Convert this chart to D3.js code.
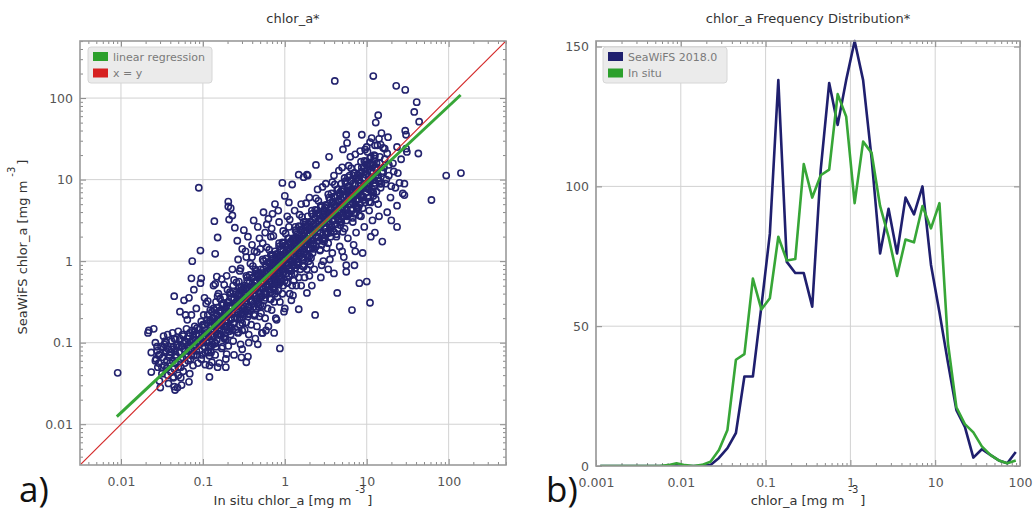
<!DOCTYPE html>
<html>
<head>
<meta charset="utf-8">
<script src="https://cdnjs.cloudflare.com/ajax/libs/d3/7.8.5/d3.min.js"></script>
<style>
	body { margin: 0; background: #fff; }
	svg#plot { display: block; font-family: "DejaVu Sans", sans-serif; }
	.tick text { fill: #555; font-size: 12.5px; font-family: "DejaVu Sans", sans-serif; }
	.tick line { stroke: #8a8a8a; stroke-width: 1; }
	.domain { display: none; }
</style>
</head>
<body>
<svg id="plot" width="1034" height="514"></svg>
<script>

// ---- panel a) matchups, log10 of [in situ, SeaWiFS] chlor_a
var matchupsLow = [
	[-2.04,-1.37],[-1.66,-0.85],[-1.60,-0.83],[-1.63,-1.12],
	[-1.56,-1.05],[-1.52,-1.55],[-1.53,-1.47],[-1.57,-1.20],
	[-1.47,-1.02],[-1.44,-1.31],[-1.42,-1.50],[-1.46,-0.98],[-1.41,-1.18],
	[-1.38,-1.08],[-1.36,-1.42],[-1.34,-1.25],[-1.32,-1.03],[-1.39,-1.36],[-1.31,-1.55],[-1.35,-0.95],[-1.33,-1.15],
	[-1.29,-1.05],[-1.27,-1.20],[-1.24,-1.35],[-1.22,-0.98],[-1.26,-1.52],[-1.21,-1.10],[-1.28,-0.62],[-1.23,-0.48],
	[-1.19,-1.04],[-1.18,-1.22],[-1.17,-0.92],[-1.16,-1.38],[-1.15,-1.00],[-1.14,-1.15],[-1.13,-0.85],[-1.12,-1.28],
	[-1.11,-1.06],[-1.19,-0.72],[-1.14,-0.66],[-1.17,-1.48],[-1.12,-0.97],
	[-1.09,-0.96],[-1.08,-1.10],[-1.07,-0.82],[-1.06,-1.25],[-1.05,-0.90],[-1.04,-1.02],[-1.03,-0.27],[-1.02,-0.74],
	[-1.01,-1.15],[-1.05,0.90],[-1.08,-0.58],
	[-0.99,-0.95],[-0.98,-0.78],[-0.97,-1.12],[-0.96,-0.88],[-0.95,-1.00],[-0.94,-0.66],[-0.93,-0.93],[-0.92,-1.28],
	[-0.91,-0.80],[-0.96,-0.52],[-0.93,-1.05],[-0.91,-0.60],
	[-1.48,-0.92],[-1.43,-0.90],[-1.37,-0.88],[-1.30,-0.86],[-1.25,-0.90],[-1.20,-0.83],[-1.10,-0.80],
	[-1.45,-1.10],[-1.40,-1.25],[-1.30,-1.30],[-1.50,-1.30]
];

var matchupsMid = [
	[-0.89,-0.85],[-0.88,-0.70],[-0.88,-1.02],[-0.87,-0.92],[-0.86,-0.60],[-0.86,-0.78],[-0.85,-1.15],[-0.84,-0.88],
	[-0.84,-0.50],[-0.83,-0.97],[-0.82,-0.72],[-0.82,-1.30],[-0.81,-0.82],[-0.81,-0.40],[-0.89,-0.62],[-0.85,-0.28],
	[-0.79,-0.76],[-0.78,-0.90],[-0.78,-0.60],[-0.77,-0.84],[-0.76,-0.52],[-0.76,-1.05],[-0.75,-0.70],[-0.74,-0.95],
	[-0.74,-0.44],[-0.73,-0.80],[-0.72,-0.64],[-0.72,-1.20],[-0.71,-0.74],[-0.69,0.73],[-0.70,-0.35],
	[-0.69,-0.66],[-0.68,-0.50],[-0.68,-0.82],[-0.67,-0.58],[-0.66,-0.90],[-0.66,-0.40],[-0.65,-0.70],[-0.64,-0.62],
	[-0.63,-0.98],[-0.63,-0.30],[-0.62,-0.76],[-0.61,-0.52],[-0.61,0.41],[-0.66,0.65],[-0.68,0.51],
	[-0.59,-0.56],[-0.59,-0.38],[-0.58,-0.70],[-0.58,-0.48],[-0.57,-0.88],[-0.57,-0.60],[-0.56,-0.25],[-0.56,-0.52],
	[-0.55,-0.78],[-0.55,-0.42],[-0.54,-0.65],[-0.54,-1.02],[-0.53,-0.50],[-0.53,-0.32],[-0.52,-0.58],[-0.52,-0.85],
	[-0.51,-0.45],[-0.51,-0.68],[-0.55,-0.12],[-0.53,-1.18],
	[-0.49,-0.46],[-0.49,-0.30],[-0.48,-0.62],[-0.48,-0.40],[-0.47,-0.75],[-0.47,-0.52],[-0.46,-0.20],[-0.46,-0.44],
	[-0.45,-0.68],[-0.45,-0.35],[-0.44,-0.56],[-0.44,-0.90],[-0.43,-0.42],[-0.43,-0.25],[-0.42,-0.60],[-0.42,-0.48],
	[-0.41,-0.32],[-0.41,-0.78],[-0.47,0.05],
	[-0.39,-0.36],[-0.39,-0.20],[-0.38,-0.52],[-0.38,-0.30],[-0.37,-0.65],[-0.37,-0.42],[-0.36,-0.10],[-0.36,-0.34],
	[-0.35,-0.58],[-0.35,-0.24],[-0.34,-0.46],[-0.34,-0.80],[-0.33,-0.32],[-0.33,-0.15],[-0.32,-0.50],[-0.32,-0.38],
	[-0.31,-0.22],[-0.31,-0.68],[-0.37,0.12],[-0.33,-1.02],
	[-0.29,-0.27],[-0.29,-0.10],[-0.28,-0.43],[-0.28,-0.20],[-0.27,-0.55],[-0.27,-0.33],[-0.26,0.00],[-0.26,-0.25],
	[-0.25,-0.48],[-0.25,-0.14],[-0.24,-0.37],[-0.24,-0.70],[-0.23,-0.22],[-0.23,-0.06],[-0.22,-0.40],[-0.22,-0.29],
	[-0.21,-0.12],[-0.21,-0.58],[-0.27,0.22],[-0.23,-0.85],
	[-0.19,-0.18],[-0.19,-0.02],[-0.19,-0.35],[-0.18,-0.10],[-0.18,-0.46],[-0.18,-0.25],[-0.17,0.08],[-0.17,-0.15],
	[-0.17,-0.38],[-0.16,-0.05],[-0.16,-0.28],[-0.16,-0.60],[-0.15,-0.12],[-0.15,0.03],[-0.14,-0.32],[-0.14,-0.20],
	[-0.14,-0.02],[-0.13,-0.50],[-0.13,-0.15],[-0.12,0.12],[-0.12,-0.24],[-0.12,-0.40],[-0.11,-0.08],[-0.11,-0.70],
	[-0.17,0.30],[-0.13,-0.88],
	[-0.09,-0.08],[-0.09,0.08],[-0.09,-0.25],[-0.08,0.00],[-0.08,-0.36],[-0.08,-0.15],[-0.07,0.18],[-0.07,-0.05],
	[-0.07,-0.28],[-0.06,0.05],[-0.06,-0.18],[-0.06,-0.50],[-0.05,-0.02],[-0.05,0.13],[-0.04,-0.22],[-0.04,-0.10],
	[-0.04,0.08],[-0.03,-0.40],[-0.03,-0.05],[-0.02,0.22],[-0.02,-0.14],[-0.02,-0.30],[-0.01,0.02],[-0.01,-0.62],
	[0.01,0.02],[0.01,0.18],[0.02,-0.15],[0.02,0.10],[0.03,-0.26],[0.03,-0.05],[0.04,0.28],[0.04,0.05],
	[0.05,-0.18],[0.05,0.15],[0.06,-0.08],[0.06,-0.40],[0.07,0.08],[0.07,0.23],[0.08,-0.12],[0.08,0.00],
	[0.09,0.18],[0.09,-0.30],[0.05,0.42],
	[0.11,0.12],[0.11,0.28],[0.11,-0.05],[0.12,0.20],[0.12,-0.16],[0.12,0.05],[0.13,0.38],[0.13,0.15],
	[0.13,-0.08],[0.14,0.25],[0.14,0.02],[0.14,-0.30],[0.15,0.18],[0.15,0.33],[0.16,-0.02],[0.16,0.10],
	[0.16,0.28],[0.17,-0.20],[0.17,0.15],[0.18,0.42],[0.18,0.06],[0.19,-0.10],[0.19,0.22],
	[0.21,0.22],[0.21,0.38],[0.21,0.05],[0.22,0.30],[0.22,-0.06],[0.22,0.15],[0.23,0.48],[0.23,0.25],
	[0.23,0.02],[0.24,0.35],[0.24,0.12],[0.24,-0.20],[0.25,0.28],[0.25,0.43],[0.26,0.08],[0.26,0.20],
	[0.27,0.38],[0.27,-0.10],[0.28,0.25],[0.28,0.55],[0.29,0.16],[0.29,0.00],
	[0.31,0.32],[0.31,0.48],[0.31,0.15],[0.32,0.40],[0.32,0.04],[0.33,0.25],[0.33,0.58],[0.34,0.35],
	[0.34,0.10],[0.35,0.45],[0.35,0.22],[0.36,-0.10],[0.37,0.38],[0.37,0.52],[0.38,0.18],[0.38,0.30],
	[0.39,0.62],[0.37,-0.66]
];

var matchupsHigh = [
	[0.41,0.42],[0.41,0.58],[0.42,0.25],[0.42,0.50],[0.43,0.14],[0.43,0.35],[0.44,0.68],[0.45,0.45],
	[0.45,0.20],[0.46,0.55],[0.46,0.32],[0.47,0.00],[0.48,0.48],[0.48,0.62],[0.49,0.28],[0.49,0.40],
	[0.51,0.52],[0.51,0.68],[0.52,0.35],[0.52,0.60],[0.53,0.22],[0.54,0.45],[0.54,0.78],[0.55,0.55],
	[0.56,0.30],[0.56,0.65],[0.57,0.42],[0.58,0.10],[0.58,0.58],[0.59,0.72],
	[0.61,0.60],[0.61,0.78],[0.62,0.45],[0.62,0.68],[0.63,0.30],[0.63,0.55],[0.64,0.88],[0.65,0.62],
	[0.65,0.40],[0.66,0.75],[0.66,0.52],[0.67,0.18],[0.68,0.66],[0.68,0.82],[0.69,0.48],[0.69,0.95],
	[0.71,0.70],[0.71,0.88],[0.72,0.55],[0.72,0.78],[0.73,0.40],[0.73,0.65],[0.74,0.98],[0.75,0.72],
	[0.75,0.50],[0.76,0.85],[0.76,0.62],[0.77,0.28],[0.78,0.76],[0.78,0.92],[0.79,0.58],[0.79,1.05],
	[0.81,0.80],[0.81,0.98],[0.82,0.62],[0.82,0.88],[0.83,0.48],[0.83,0.72],[0.84,1.08],[0.85,0.82],
	[0.85,0.58],[0.86,0.95],[0.86,0.70],[0.87,0.35],[0.87,0.86],[0.88,1.02],[0.88,0.66],[0.89,1.15],
	[0.89,0.76],[0.84,0.20],
	[0.91,0.88],[0.91,1.05],[0.92,0.70],[0.92,0.96],[0.93,0.55],[0.93,0.80],[0.94,1.15],[0.95,0.90],
	[0.95,0.65],[0.96,1.02],[0.96,0.78],[0.97,0.42],[0.97,0.94],[0.98,1.10],[0.98,0.72],[0.99,1.22],[0.99,0.84],
	[1.01,0.96],[1.01,1.12],[1.02,0.78],[1.02,1.04],[1.03,0.62],[1.03,0.88],[1.04,1.20],[1.04,-0.51],
	[1.05,0.98],[1.05,0.72],[1.06,1.10],[1.06,0.85],[1.07,0.50],[1.07,1.02],[1.08,1.18],[1.08,0.80],
	[1.09,1.30],[1.09,0.92],
	[1.11,1.05],[1.12,1.20],[1.12,0.85],[1.13,1.12],[1.14,0.70],[1.15,0.98],[1.16,1.28],[1.17,0.90],[1.19,1.08],
	[1.21,1.15],[1.23,0.95],[1.25,1.32],[1.27,1.05],[1.29,0.78],
	[1.32,1.20],[1.35,0.90],[1.37,1.40],[1.38,1.08],
	[1.42,1.25],[1.46,0.95],[1.48,1.38]
];

// the solid core of the cloud, close to the 1:1 line
var matchupsCore = [
	[-1.58,-1.22],[-1.56,-1.10],[-1.55,-1.30],[-1.53,-1.15],[-1.51,-1.05],[-1.50,-1.38],
	[-1.49,-1.18],[-1.48,-1.06],[-1.47,-1.28],[-1.46,-1.12],[-1.45,-1.00],[-1.44,-1.22],[-1.43,-1.40],[-1.42,-1.08],[-1.41,-1.15],
	[-1.39,-1.12],[-1.38,-0.98],[-1.37,-1.22],[-1.36,-1.05],[-1.35,-1.32],[-1.34,-1.10],[-1.33,-0.96],[-1.32,-1.18],[-1.31,-1.02],[-1.30,-1.40],
	[-1.29,-1.12],[-1.28,-0.95],[-1.27,-1.30],[-1.26,-1.04],[-1.25,-1.18],[-1.24,-0.92],[-1.23,-1.08],[-1.22,-1.25],[-1.21,-1.00],[-1.20,-1.14],
	[-1.19,-0.95],[-1.18,-1.10],[-1.17,-1.02],[-1.16,-0.88],[-1.15,-1.20],[-1.14,-0.98],[-1.13,-1.10],[-1.12,-0.90],[-1.11,-1.16],[-1.10,-1.02],[-1.10,-0.86],
	[-1.09,-1.05],[-1.08,-0.90],[-1.07,-1.15],[-1.06,-0.98],[-1.05,-0.84],[-1.04,-1.10],[-1.03,-0.95],[-1.02,-1.20],[-1.01,-0.88],[-1.00,-1.00],[-1.00,-0.78],
	[-0.99,-0.92],[-0.98,-1.05],[-0.97,-0.85],[-0.96,-0.98],[-0.95,-0.76],[-0.94,-1.10],[-0.93,-0.88],[-0.92,-0.98],[-0.91,-0.72],[-0.90,-0.90],[-0.90,-1.12],
	[-0.89,-0.80],[-0.88,-0.92],[-0.87,-0.84],[-0.86,-0.70],[-0.85,-1.00],[-0.84,-0.78],[-0.83,-0.66],[-0.82,-0.90],[-0.81,-0.74],[-0.80,-0.85],[-0.80,-0.62],
	[-0.79,-0.91],[-0.78,-0.64],[-0.77,-0.79],[-0.76,-0.54],[-0.75,-0.70],[-0.74,-0.94],[-0.73,-0.63],[-0.72,-0.72],[-0.71,-0.80],[-0.70,-0.51],[-0.70,-0.66],
	[-0.69,-0.63],[-0.68,-0.86],[-0.67,-0.55],[-0.66,-0.72],[-0.65,-0.45],[-0.64,-0.62],[-0.63,-0.76],[-0.62,-0.47],[-0.61,-0.64],[-0.60,-0.51],[-0.60,-0.84],
	[-0.59,-0.50],[-0.58,-0.62],[-0.57,-0.54],[-0.56,-0.40],[-0.55,-0.70],[-0.54,-0.48],[-0.53,-0.36],[-0.52,-0.60],[-0.51,-0.44],[-0.50,-0.55],[-0.50,-0.32],
	[-0.49,-0.61],[-0.48,-0.34],[-0.47,-0.49],[-0.46,-0.24],[-0.45,-0.40],[-0.44,-0.64],[-0.43,-0.33],[-0.42,-0.42],[-0.41,-0.50],[-0.40,-0.21],[-0.40,-0.36],
	[-0.39,-0.33],[-0.38,-0.56],[-0.37,-0.25],[-0.36,-0.42],[-0.35,-0.15],[-0.34,-0.32],[-0.33,-0.46],[-0.32,-0.17],[-0.31,-0.34],[-0.30,-0.21],[-0.30,-0.54],
	[-0.29,-0.20],[-0.28,-0.32],[-0.27,-0.24],[-0.26,-0.10],[-0.25,-0.40],[-0.24,-0.18],[-0.23,-0.06],[-0.22,-0.30],[-0.21,-0.14],[-0.20,-0.25],[-0.20,-0.02],
	[-0.19,-0.31],[-0.18,-0.04],[-0.17,-0.19],[-0.16,0.06],[-0.15,-0.10],[-0.14,-0.34],[-0.13,-0.03],[-0.12,-0.12],[-0.11,-0.20],[-0.10,0.09],[-0.10,-0.06],
	[-0.09,-0.03],[-0.08,-0.26],[-0.07,0.05],[-0.06,-0.12],[-0.05,0.15],[-0.04,-0.02],[-0.03,-0.16],[-0.02,0.13],[-0.01,-0.04],[0.00,0.09],[0.00,-0.24],
	[0.01,0.10],[0.02,-0.02],[0.03,0.06],[0.04,0.20],[0.05,-0.10],[0.06,0.12],[0.07,0.24],[0.08,0.00],[0.09,0.16],[0.10,0.05],[0.10,0.28],
	[0.11,-0.01],[0.12,0.26],[0.13,0.11],[0.14,0.36],[0.15,0.20],[0.16,-0.04],[0.17,0.27],[0.18,0.18],[0.19,0.10],[0.20,0.39],[0.20,0.24],
	[0.21,0.27],[0.22,0.04],[0.23,0.35],[0.24,0.18],[0.25,0.45],[0.26,0.28],[0.27,0.14],[0.28,0.43],[0.29,0.26],[0.30,0.39],[0.30,0.06],
	[0.31,0.40],[0.32,0.28],[0.33,0.36],[0.34,0.50],[0.35,0.20],[0.36,0.42],[0.37,0.54],[0.38,0.30],[0.39,0.46],[0.40,0.35],[0.40,0.58],
	[0.41,0.29],[0.42,0.56],[0.43,0.41],[0.44,0.66],[0.45,0.50],[0.46,0.26],[0.47,0.57],[0.48,0.48],[0.49,0.40],[0.50,0.69],[0.50,0.54],
	[0.51,0.57],[0.52,0.34],[0.53,0.65],[0.54,0.48],[0.55,0.75],[0.56,0.58],[0.57,0.44],[0.58,0.73],[0.59,0.56],[0.60,0.69],[0.60,0.36],
	[0.61,0.70],[0.62,0.58],[0.63,0.66],[0.64,0.80],[0.65,0.50],[0.66,0.72],[0.67,0.84],[0.68,0.60],[0.69,0.76],[0.70,0.65],[0.70,0.88],
	[0.71,0.59],[0.72,0.86],[0.73,0.71],[0.74,0.96],[0.75,0.80],[0.76,0.56],[0.77,0.87],[0.78,0.78],[0.79,0.70],[0.80,0.99],[0.80,0.84],
	[0.81,0.87],[0.82,0.64],[0.83,0.95],[0.84,0.78],[0.85,1.05],[0.86,0.88],[0.87,0.74],[0.88,1.03],[0.89,0.86],[0.90,0.99],[0.90,0.66],
	[0.91,1.00],[0.92,0.88],[0.93,0.96],[0.94,1.10],[0.95,0.80],[0.96,1.02],[0.97,1.14],[0.98,0.90],[0.99,1.06],[1.00,0.95],[1.00,1.18],
	[1.01,0.89],[1.02,1.16],[1.03,1.01],[1.04,1.26],[1.05,1.10],[1.06,0.86],[1.07,1.17],[1.08,1.08],[1.09,1.00],[1.10,1.29],[1.10,1.14],
	[1.12,1.15],[1.14,1.02],[1.16,1.20],[1.18,0.95],[1.20,1.10],[1.22,1.25],
	[1.24,1.00],[1.27,1.18],[1.30,0.92],[1.33,1.10]
];

// the wider band around the core
var matchupsBand = [
	[-0.99,-0.66],[-0.97,-1.27],[-0.94,-0.49],[-0.92,-1.16],[-0.89,-1.24],[-0.87,-0.58],[-0.84,-1.05],[-0.82,-0.43],
	[-0.79,-0.46],[-0.77,-1.07],[-0.74,-0.29],[-0.72,-0.96],[-0.69,-1.04],[-0.67,-0.38],[-0.64,-0.85],[-0.62,-0.23],
	[-0.59,-0.26],[-0.57,-0.87],[-0.54,-0.09],[-0.52,-0.76],[-0.49,-0.84],[-0.47,-0.18],[-0.44,-0.65],[-0.42,-0.03],
	[-0.39,-0.06],[-0.37,-0.67],[-0.34,0.11],[-0.32,-0.56],[-0.29,-0.64],[-0.27,0.02],[-0.24,-0.45],[-0.22,0.17],
	[-0.19,0.14],[-0.17,-0.47],[-0.14,0.31],[-0.12,-0.36],[-0.09,-0.44],[-0.07,0.22],[-0.04,-0.25],[-0.02,0.37],
	[0.01,0.34],[0.03,-0.27],[0.06,0.51],[0.08,-0.16],[0.11,-0.24],[0.13,0.42],[0.16,-0.05],[0.18,0.57],
	[0.21,0.54],[0.23,-0.07],[0.26,0.71],[0.28,0.04],[0.31,-0.04],[0.33,0.62],[0.36,0.15],[0.38,0.77],
	[0.41,0.74],[0.43,0.13],[0.46,0.91],[0.48,0.24],[0.51,0.16],[0.53,0.82],[0.56,0.35],[0.58,0.97],
	[0.61,0.94],[0.63,0.33],[0.66,1.11],[0.68,0.44],[0.71,0.36],[0.73,1.02],[0.76,0.55],[0.78,1.17],
	[0.81,1.14],[0.83,0.53],[0.86,1.31],[0.88,0.64],[0.91,0.56],[0.93,1.22],[0.96,0.75],[0.98,1.37],
	[1.01,1.34],[1.03,0.73],[1.06,1.51],[1.08,0.84],[1.11,0.76],[1.13,1.42],[1.16,0.95],[1.18,1.57],
	[-0.95,-0.72],[-0.93,-1.12],[-0.91,-0.74],[-0.90,-1.04],[-0.85,-1.01],[-0.83,-0.57],[-0.81,-0.90],[-0.80,-0.61],
	[-0.75,-0.52],[-0.73,-0.92],[-0.71,-0.54],[-0.70,-0.84],[-0.65,-0.81],[-0.63,-0.37],[-0.61,-0.70],[-0.60,-0.41],
	[-0.55,-0.32],[-0.53,-0.72],[-0.51,-0.34],[-0.50,-0.64],[-0.45,-0.61],[-0.43,-0.17],[-0.41,-0.50],[-0.40,-0.21],
	[-0.35,-0.12],[-0.33,-0.52],[-0.31,-0.14],[-0.30,-0.44],[-0.25,-0.41],[-0.23,0.03],[-0.21,-0.30],[-0.20,-0.01],
	[-0.15,0.08],[-0.13,-0.32],[-0.11,0.06],[-0.10,-0.24],[-0.05,-0.21],[-0.03,0.23],[-0.01,-0.10],[0.00,0.19],
	[0.05,0.28],[0.07,-0.12],[0.09,0.26],[0.10,-0.04],[0.15,-0.01],[0.17,0.43],[0.19,0.10],[0.20,0.39],
	[0.25,0.48],[0.27,0.08],[0.29,0.46],[0.30,0.16],[0.35,0.19],[0.37,0.63],[0.39,0.30],[0.40,0.59],
	[0.45,0.68],[0.47,0.28],[0.49,0.66],[0.50,0.36],[0.55,0.39],[0.57,0.83],[0.59,0.50],[0.60,0.79],
	[0.65,0.88],[0.67,0.48],[0.69,0.86],[0.70,0.56],[0.75,0.59],[0.77,1.03],[0.79,0.70],[0.80,0.99],
	[0.85,1.08],[0.87,0.68],[0.89,1.06],[0.90,0.76],[0.95,0.79],[0.97,1.23],[0.99,0.90],[1.00,1.19],
	[1.05,1.28],[1.07,0.88],[1.09,1.26],[1.10,0.96],[1.15,0.99],[1.17,1.43],[1.19,1.10],[1.20,1.39]
];

var matchupsSparse = [
	[0.61,2.21],[1.08,2.27],[1.36,2.15],[1.47,2.10],[1.61,1.95],[1.58,1.83],[1.64,1.71],[1.14,1.79],
	[1.11,1.70],[1.47,1.60],[1.48,1.55],[1.49,1.34],[1.63,1.32],[1.97,1.05],[2.15,1.08],[1.79,0.75],
	[1.46,0.81],[1.40,0.96],[1.37,0.68],[1.26,1.52],[1.15,1.50],[1.04,1.46],[0.94,1.55],[0.75,1.55],
	[0.76,1.45],[0.71,1.37],[0.38,1.18],[0.54,1.28],[0.28,1.05],[0.23,1.03],
	[-0.98,-0.45],[-0.92,-1.42],[-0.87,-0.30],[-0.80,-1.25],[-0.77,-0.22],[-0.72,-1.30],[-0.64,-0.10],
	[-0.62,-1.15],[-0.57,0.02],[-0.52,-1.08],[-0.48,0.12],[-0.44,-1.00],[-0.40,0.20],[-0.36,-0.95],
	[-0.31,0.28],[-0.28,-0.88],[-0.24,0.35],[-0.20,-0.80],[-0.16,0.40],[-0.10,-0.72],[-0.07,0.48],
	[-0.03,0.96],[0.00,-0.58],[0.03,0.55],[0.09,0.94],[0.08,-0.48],[0.12,0.62],[0.17,1.06],[0.17,-0.59],
	[0.20,0.70],[0.27,1.06],[0.27,-0.39],[0.30,0.78],[0.33,-0.30],[0.40,0.88],[0.44,-0.20],[0.50,0.95],
	[0.53,-0.10],[0.60,1.05],[0.64,-0.39],[0.70,1.15],[0.72,0.05],[0.75,-0.13],[0.75,-0.05],[0.80,1.28],
	[0.82,-0.60],[0.86,0.12],[0.91,-0.27],[0.92,1.35],[1.00,-0.25],[1.00,1.40],[1.05,0.30],[1.10,1.42],
	[1.19,0.24],[1.22,1.38],[1.30,0.50],[1.37,0.42],[1.44,0.83],
	[-0.69,0.67],[-0.64,0.56],[-0.86,0.49],[-0.82,0.29],[-1.03,0.13],[-1.13,0.00],[-1.14,-0.21],
	[-1.02,-0.21],[-1.35,-0.43],[-1.17,-0.45],[-1.11,-0.35],[-0.85,0.09],[-0.83,-0.19],[-0.71,-0.18],
	[-1.21,-0.66],[-1.36,-1.43],[-1.35,-1.54],[-1.34,-1.58],[-1.27,-1.43],[-1.63,-1.36],[-1.67,-0.88],
	[-1.58,-1.00],[-1.54,-1.15],[-1.54,-1.25],[-0.06,-1.07],[-0.27,-0.88],[-0.47,-1.24],[-0.45,-1.17],
	[-0.71,-1.14],
	[-0.58,0.25],[-0.50,0.38],[-0.45,0.30],[-0.38,0.50],[-0.33,0.42],[-0.26,0.60],[-0.20,0.52],
	[-0.12,0.70],[-0.08,0.62],[-0.52,0.15],[-0.40,0.05],[-0.30,0.15],[-0.22,0.45],[-0.15,0.58],
	[0.00,0.80],[0.05,0.72],
	[0.10,-0.42],[0.20,-0.30],[0.30,-0.18],[0.45,-0.05],[0.55,0.02],[0.60,-0.15],[0.70,0.12],
	[0.85,-0.05],[0.95,0.10],[1.10,0.35],[1.15,0.55],[1.25,0.60]
];

// regression line end points (mg m^-3) and the 1:1 line
var regInsitu = [0.0089, 140],
	regSeawifs = [0.0124, 109];
var oneToOne = [Math.pow(10,-2.5), Math.pow(10,2.7)];

var aTicks = [0.01, 0.1, 1, 10, 100],
	aTickLabels = ["0.01", "0.1", "1", "10", "100"];

// ---- panel b) frequency distribution, log10 bin centres and counts
var logBins = [-2.95,-2.85,-2.75,-2.65,-2.55,-2.45,-2.35,-2.25,-2.15,-2.05,
	-1.95,-1.85,-1.75,-1.65,-1.55,-1.45,-1.35,-1.25,-1.15,-1.05,
	-0.95,-0.85,-0.75,-0.65,-0.55,-0.45,-0.35,-0.25,-0.15,-0.05,
	0.05,0.15,0.25,0.35,0.45,0.55,0.65,0.75,0.85,0.95,
	1.05,1.15,1.25,1.35,1.45,1.55,1.65,1.75,1.85,1.95];
var seawifsCounts = [0,0,0,0,0,0,0,0,0,0.5,
	0,0,0,0.4,2.9,6.4,11.8,32,32,57,
	83,138,73,69,69,57,106,137,122,138,
	152,138,110,76,92,76,96,90,100,72,
	55,37,20,14,3,6,4,2,1,5];
var insituCounts = [0,0,0,0,0,0,0,0,0.3,1,
	0.3,0,0.4,1.5,5.7,12.9,38,40,67,56,
	60,82,73.5,74,108,96,104,106,133,125,
	94,116,112,93,82,68,81,80,93,85,
	94,44,21,15,12,7,4,2,1,2];

var bXTicks = [0.001, 0.01, 0.1, 1, 10, 100],
	bXTickLabels = ["0.001", "0.01", "0.1", "1", "10", "100"],
	bYTicks = [0, 50, 100, 150];

var navy = "#1f1f6e", green = "#37a637", red = "#d42a2a";

var svg = d3.select("#plot");

// panel boxes
var boxA = {l: 80, r: 506, t: 41, b: 465},
	boxB = {l: 596, r: 1020, t: 41, b: 466};

var xA = d3.scaleLog().domain(oneToOne).range([boxA.l, boxA.r]),
	yA = d3.scaleLog().domain(oneToOne).range([boxA.b, boxA.t]);
var xB = d3.scaleLog().domain([0.001, 100]).range([boxB.l, boxB.r]),
	yB = d3.scaleLinear().domain([0, 152]).range([boxB.b, boxB.t]);

function isDecade(v){
	var l = Math.log10(v);
	return Math.abs(l - Math.round(l)) < 1e-6;
}

function frame(g, box, x, y, xMajor, xLabels, yMajor, yLabels, yMinor){
	var xMinor = x.ticks().filter(function(d){ return !isDecade(d); });
	g.append("g").selectAll("line").data(xMajor).enter().append("line")
		.attr("x1", x).attr("x2", x).attr("y1", box.t).attr("y2", box.b)
		.style("stroke", "#d2d2d2").style("stroke-width", 1);
	g.append("g").selectAll("line").data(yMajor).enter().append("line")
		.attr("y1", y).attr("y2", y).attr("x1", box.l).attr("x2", box.r)
		.style("stroke", "#d2d2d2").style("stroke-width", 1);

	g.append("g").attr("transform", "translate(0," + box.b + ")")
		.call(d3.axisBottom(x).tickValues(xMajor).tickSize(-6).tickPadding(12)
			.tickFormat(function(d, i){ return xLabels[i]; }));
	g.append("g").attr("transform", "translate(0," + box.b + ")")
		.call(d3.axisBottom(x).tickValues(xMinor).tickSize(-3).tickFormat(""));
	g.append("g").attr("transform", "translate(0," + box.t + ")")
		.call(d3.axisTop(x).tickValues(xMajor).tickSize(-6).tickFormat(""));
	g.append("g").attr("transform", "translate(0," + box.t + ")")
		.call(d3.axisTop(x).tickValues(xMinor).tickSize(-3).tickFormat(""));

	g.append("g").attr("transform", "translate(" + box.l + ",0)")
		.call(d3.axisLeft(y).tickValues(yMajor).tickSize(-6).tickPadding(7)
			.tickFormat(function(d, i){ return yLabels[i]; }));
	g.append("g").attr("transform", "translate(" + box.r + ",0)")
		.call(d3.axisRight(y).tickValues(yMajor).tickSize(-6).tickFormat(""));
	if(yMinor.length){
		g.append("g").attr("transform", "translate(" + box.l + ",0)")
			.call(d3.axisLeft(y).tickValues(yMinor).tickSize(-3).tickFormat(""));
		g.append("g").attr("transform", "translate(" + box.r + ",0)")
			.call(d3.axisRight(y).tickValues(yMinor).tickSize(-3).tickFormat(""));
	}
}

function border(g, box){
	g.append("rect").attr("x", box.l).attr("y", box.t)
		.attr("width", box.r - box.l).attr("height", box.b - box.t)
		.style("fill", "none").style("stroke", "#9a9a9a").style("stroke-width", 1.6);
}

function legend(g, x, y, w, items){
	g.append("rect").attr("x", x).attr("y", y).attr("width", w).attr("height", 36)
		.attr("rx", 3).style("fill", "#ebebeb").style("stroke", "#d6d6d6");
	items.forEach(function(it, i){
		g.append("rect").attr("x", x + 5).attr("y", y + 5 + i * 16.5)
			.attr("width", 15).attr("height", 9).style("fill", it.color);
		g.append("text").attr("x", x + 25).attr("y", y + 13.5 + i * 16.5)
			.style("font-size", "11px").style("fill", "#7a7a7a").text(it.label);
	});
}

function xLabel(g, cx, cy, text){
	var t = g.append("text").attr("x", cx).attr("y", cy).attr("text-anchor", "middle")
		.style("font-size", "13px").style("fill", "#333");
	t.append("tspan").text(text);
	t.append("tspan").attr("dx", 4).attr("dy", -12).style("font-size", "10px").text("-3");
	t.append("tspan").attr("dx", 2).attr("dy", 12).text("]");
	return t;
}

// ---------- panel a
var gA = svg.append("g");
frame(gA, boxA, xA, yA, aTicks, aTickLabels, aTicks, aTickLabels,
	yA.ticks().filter(function(d){ return !isDecade(d); }));

svg.append("clipPath").attr("id", "clipA").append("rect")
	.attr("x", boxA.l).attr("y", boxA.t).attr("width", boxA.r - boxA.l).attr("height", boxA.b - boxA.t);

var allMatchups = matchupsLow.concat(matchupsMid, matchupsHigh, matchupsCore, matchupsBand, matchupsSparse);
gA.append("g").attr("clip-path", "url(#clipA)")
	.selectAll("circle").data(allMatchups).enter().append("circle")
	.attr("cx", function(d){ return xA(Math.pow(10, d[0])); })
	.attr("cy", function(d){ return yA(Math.pow(10, d[1])); })
	.attr("r", 3.1)
	.style("fill", "none").style("stroke", "#24246f").style("stroke-width", 1.6);

var lineA = d3.line().x(function(d){ return xA(d[0]); }).y(function(d){ return yA(d[1]); });
gA.append("path").datum(d3.zip(regInsitu, regSeawifs)).attr("d", lineA)
	.style("fill", "none").style("stroke", green).style("stroke-width", 3);
gA.append("path").datum(d3.zip(oneToOne, oneToOne)).attr("d", lineA).attr("clip-path", "url(#clipA)")
	.style("fill", "none").style("stroke", red).style("stroke-width", 1.2);

border(gA, boxA);
legend(gA, 88, 47, 124, [{color: "#2ca02c", label: "linear regression"}, {color: "#d62020", label: "x = y"}]);

gA.append("text").attr("x", (boxA.l + boxA.r) / 2).attr("y", 23).attr("text-anchor", "middle")
	.style("font-size", "13px").style("fill", "#333").text("chlor_a*");
xLabel(gA, 293, 505, "In situ chlor_a [mg m");
xLabel(gA, 0, 0, "SeaWiFS chlor_a [mg m")
	.attr("transform", "translate(27,247) rotate(-90)");

// ---------- panel b
var gB = svg.append("g");
frame(gB, boxB, xB, yB, bXTicks, bXTickLabels, bYTicks, bYTicks.map(String), []);

svg.append("clipPath").attr("id", "clipB").append("rect")
	.attr("x", boxB.l).attr("y", boxB.t - 2).attr("width", boxB.r - boxB.l).attr("height", boxB.b - boxB.t + 2);

var lineB = d3.line()
	.x(function(d){ return xB(Math.pow(10, d[0])); })
	.y(function(d){ return yB(d[1]); });

gB.append("path").datum(d3.zip(logBins, seawifsCounts)).attr("d", lineB).attr("clip-path", "url(#clipB)")
	.style("fill", "none").style("stroke", navy).style("stroke-width", 2.6).style("stroke-linejoin", "round");
gB.append("path").datum(d3.zip(logBins, insituCounts)).attr("d", lineB).attr("clip-path", "url(#clipB)")
	.style("fill", "none").style("stroke", green).style("stroke-width", 2.6).style("stroke-linejoin", "round");

border(gB, boxB);
legend(gB, 603, 47, 124, [{color: "#1f1f6e", label: "SeaWiFS 2018.0"}, {color: "#2ca02c", label: "In situ"}]);

gB.append("text").attr("x", 808).attr("y", 23).attr("text-anchor", "middle")
	.style("font-size", "13px").style("fill", "#333").text("chlor_a Frequency Distribution*");
xLabel(gB, 808, 505, "chlor_a [mg m");

// panel letters
svg.append("text").attr("x", 19).attr("y", 502).style("font-family", "'Open Sans', sans-serif")
	.style("font-size", "35px").style("fill", "#111").text("a)");
svg.append("text").attr("x", 546).attr("y", 502).style("font-family", "'Open Sans', sans-serif")
	.style("font-size", "35px").style("fill", "#111").text("b)");

</script>
</body>
</html>
